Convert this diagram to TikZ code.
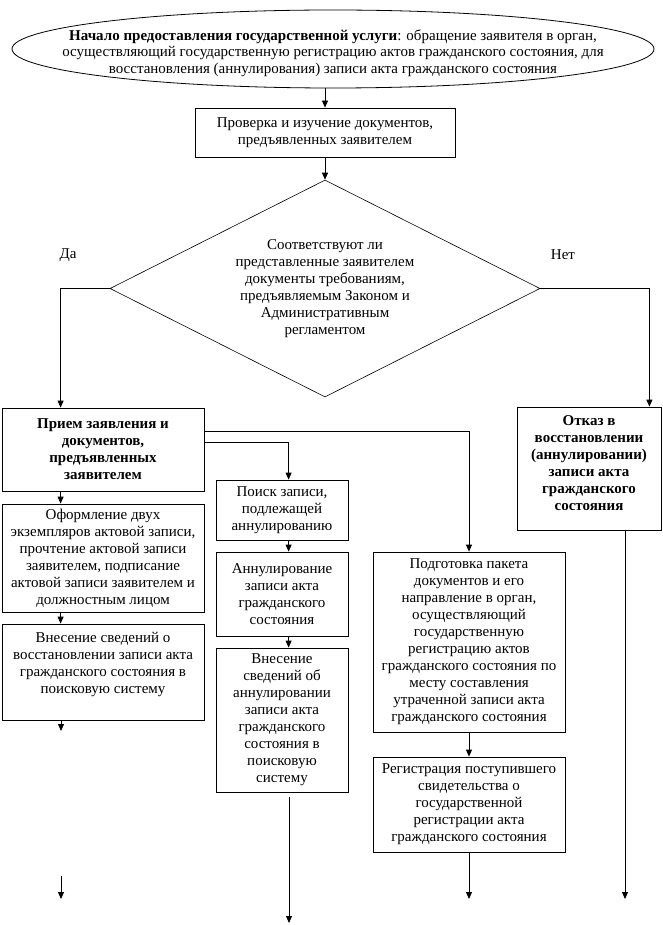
\documentclass[tikz,border=0pt]{standalone}
\usepackage{fontspec}
\setmainfont{Liberation Serif}
\usetikzlibrary{arrows.meta,shapes.geometric}
\begin{document}
\begin{tikzpicture}[x=1pt,y=-1pt,
  txt/.style={font=\fontsize{15}{17}\selectfont},
  bx/.style={draw, rectangle, inner sep=0pt, align=center, line width=0.8pt, txt},
  arr/.style={-{Triangle[length=7pt,width=6pt]}, line width=0.8pt},
  lbl/.style={txt, inner sep=0pt}]
\useasboundingbox (0,0) rectangle (662,925);

% start ellipse
\node[draw, ellipse, inner sep=0pt, minimum width=642, minimum height=78, line width=0.8pt] (start) at (333,49) {};
\node[align=center, inner sep=0pt, font=\fontsize{15}{16.5}\selectfont] (starttxt) at ([yshift=-4pt]start.center)
  {\textbf{Начало предоставления государственной услуги}: обращение заявителя в орган,\\
   осуществляющий государственную регистрацию актов гражданского состояния, для\\
   восстановления (аннулирования) записи акта гражданского состояния};

\node[bx, minimum width=260, minimum height=49] (check) at (325,132.5)
  {Проверка и изучение документов,\\ предъявленных заявителем};

\node[draw, diamond, inner sep=0pt, aspect=1.98, minimum width=430, minimum height=217,
  align=center, line width=0.6pt, txt] (dia) at (325,288.5)
  {Соответствуют ли\\ представленные заявителем\\ документы требованиям,\\ предъявляемым Законом и\\ Административным\\ регламентом};

\node[lbl] (yes) at (68,255) {Да};
\node[lbl] (no) at (563,255) {Нет};

\node[bx, minimum width=202, minimum height=83] (priem) at (103,449.5)
  {\textbf{Прием заявления и}\\ \textbf{документов,}\\ \textbf{предъявленных}\\ \textbf{заявителем}};
\node[bx, minimum width=144, minimum height=123] (otkaz) at (589,468.5)
  {\textbf{Отказ в}\\ \textbf{восстановлении}\\ \textbf{(аннулировании)}\\ \textbf{записи акта}\\ \textbf{гражданского}\\ \textbf{состояния}\\[-7pt]};

\node[bx, minimum width=202, minimum height=108] (oform) at (103,558)
  {Оформление двух\\ экземпляров актовой записи,\\ прочтение актовой записи\\ заявителем, подписание\\ актовой записи заявителем и\\ должностным лицом};
\node[bx, minimum width=202, minimum height=96] (vnes1) at (103,672)
  {Внесение сведений о\\ восстановлении записи акта\\ гражданского состояния в\\ поисковую систему\\[1pt]};

\node[bx, minimum width=132, minimum height=60] (poisk) at (282,510)
  {Поиск записи,\\ подлежащей\\ аннулированию};
\node[bx, minimum width=132, minimum height=84] (annul) at (282,594)
  {Аннулирование\\ записи акта\\ гражданского\\ состояния};
\node[bx, minimum width=132, minimum height=144] (vnes2) at (282,720)
  {Внесение\\ сведений об\\ аннулировании\\ записи акта\\ гражданского\\ состояния в\\ поисковую\\ систему};

\node[bx, minimum width=192, minimum height=180] (podg) at (469,642)
  {Подготовка пакета\\ документов и его\\ направление в орган,\\ осуществляющий\\ государственную\\ регистрацию актов\\ гражданского состояния по\\ месту составления\\ утраченной записи акта\\ гражданского состояния};
\node[bx, minimum width=192, minimum height=95] (reg) at (469,804.5)
  {Регистрация поступившего\\ свидетельства о\\ государственной\\ регистрации акта\\ гражданского состояния};

% free ends
\coordinate (f1) at (61,731);
\coordinate (f2a) at (61,876);
\coordinate (f2b) at (61,899);
\coordinate (f3a) at (289,797);
\coordinate (f3b) at (289,923);
\coordinate (f4) at (469,899);
\coordinate (f5) at (625,899);

% connectors
\draw[arr] (check.north |- start.south) -- (check.north);
\draw[arr] (check.south) -- (dia.north);
\draw[arr] (dia.west) -| ([xshift=59]priem.north west);
\draw[arr] (dia.east) -| ([xshift=-12]otkaz.north east);
\draw[arr] ([yshift=-24]priem.north east) -| (podg.north);
\draw[arr] ([yshift=-35]priem.north east) -| ([xshift=73]poisk.north west);
\draw[arr] ([xshift=59]priem.south west) -- ([xshift=59]oform.north west);
\draw[arr] ([xshift=59]oform.south west) -- ([xshift=59]vnes1.north west);
\draw[arr] (vnes1.south -| f1) -- (f1);
\draw[arr] (f2a) -- (f2b);
\draw[arr] ([xshift=73]poisk.south west) -- ([xshift=73]annul.north west);
\draw[arr] ([xshift=73]annul.south west) -- ([xshift=73]vnes2.north west);
\draw[arr] (f3a) -- (f3b);
\draw[arr] (podg.south) -- (reg.north);
\draw[arr] (reg.south) -- (f4);
\draw[arr] (otkaz.south -| f5) -- (f5);
\end{tikzpicture}
\end{document}
